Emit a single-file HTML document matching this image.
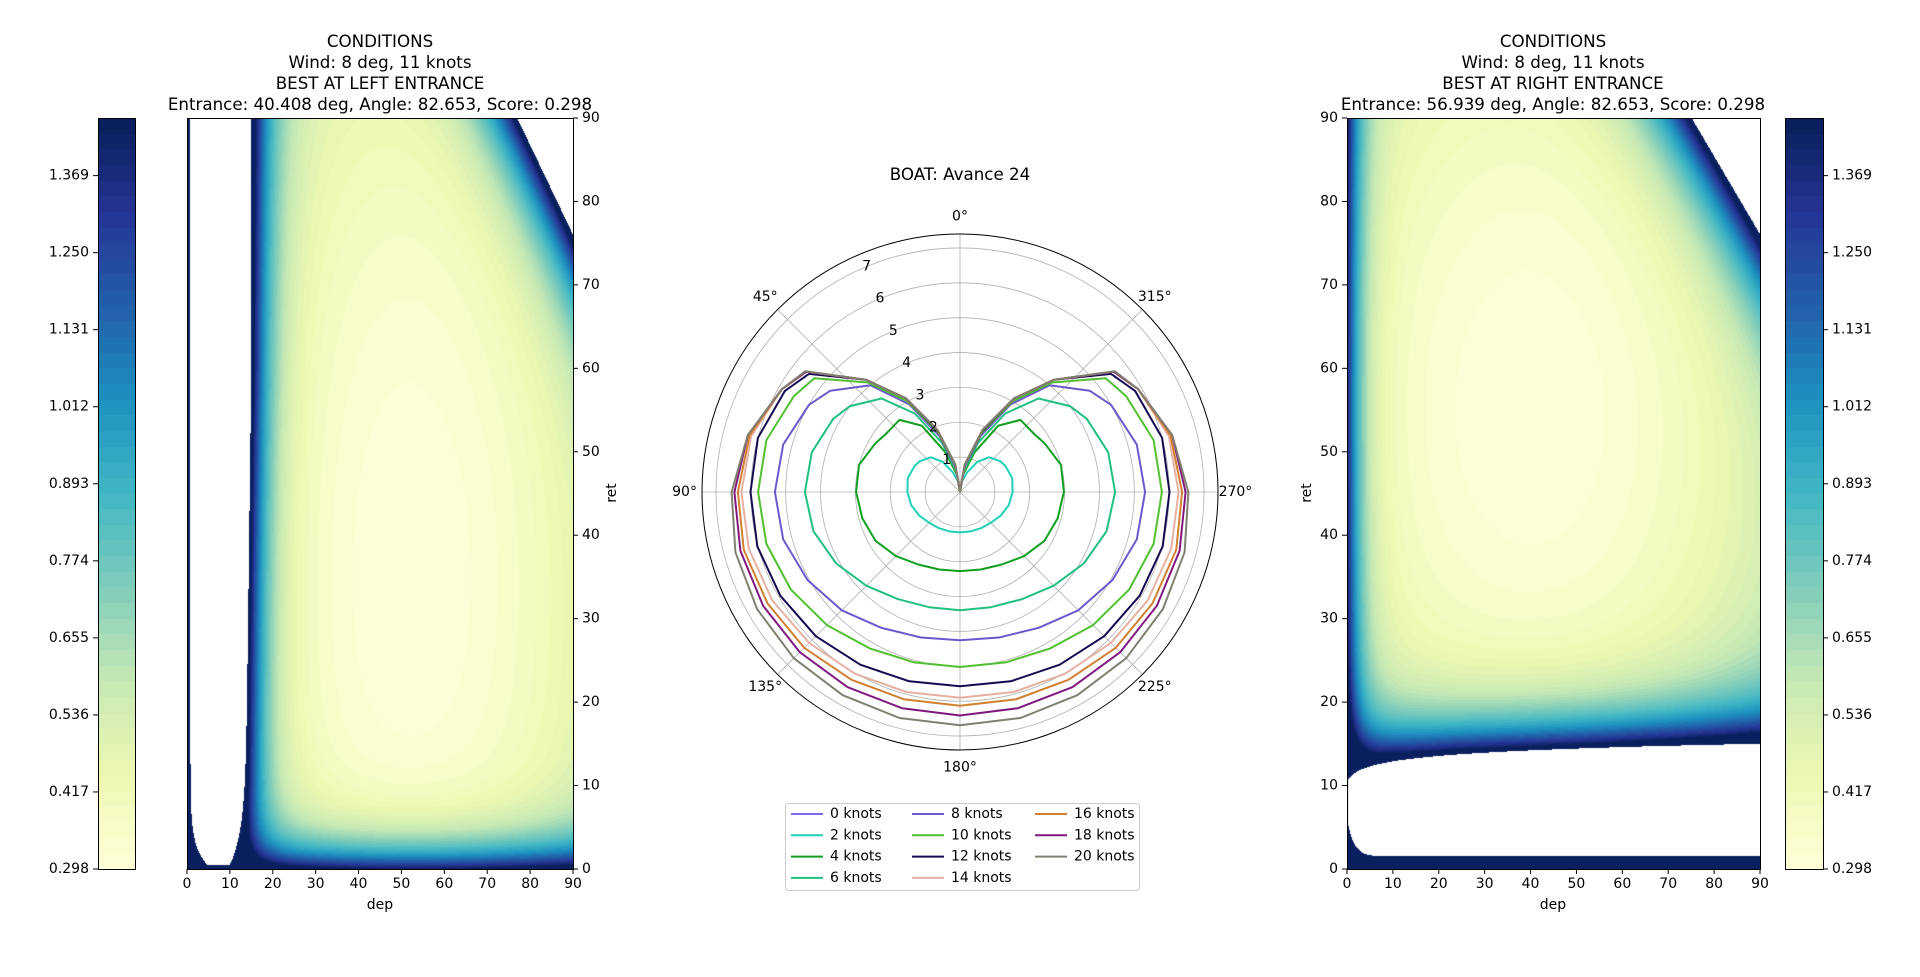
<!DOCTYPE html>
<html><head><meta charset="utf-8"><style>
html,body{margin:0;padding:0;background:#fff;width:1920px;height:977px;overflow:hidden}
#root{position:relative;width:1920px;height:977px;font-family:"DejaVu Sans","Liberation Sans",sans-serif}
canvas{position:absolute}
svg{position:absolute;left:0;top:0}
text{font-family:"DejaVu Sans","Liberation Sans",sans-serif;fill:#000}
</style></head><body>
<div id="root">
<canvas id="hmL" width="386" height="751" style="left:187px;top:118px;width:386px;height:751px"></canvas>
<canvas id="hmR" width="413" height="751" style="left:1347px;top:118px;width:413px;height:751px"></canvas>
<canvas id="cbL" width="37" height="751" style="left:98px;top:118px;width:37px;height:751px"></canvas>
<canvas id="cbR" width="38" height="751" style="left:1785px;top:118px;width:38px;height:751px"></canvas>
<svg id="svg" width="1920" height="977"></svg>
</div>
<script>
// ---- data ----
const polarAngles = [0,10,20,30,40,52,60,75,90,105,120,135,150,165,180];
const windLabels = ["0 knots","2 knots","4 knots","6 knots","8 knots","10 knots","12 knots","14 knots","16 knots","18 knots","20 knots"];
const windColors = ["#7b68ee","#20d0b8","#10a020","#20c080","#6a5acd","#50c030","#140a50","#e8b0a0","#d08030","#801880","#808070"];
const speeds0  = [0,0,0,0,0,0,0,0,0,0,0,0,0,0,0];
const speeds2  = [0,0.3,0.6,1.0,1.3,1.45,1.5,1.55,1.51,1.45,1.35,1.25,1.2,1.17,1.16];
const speeds4  = [0,0.5,1.2,2.2,2.7,2.7,2.8,3.0,2.98,2.9,2.8,2.6,2.4,2.3,2.27];
const speeds6  = [0,0.6,1.5,2.6,3.5,4.0,4.2,4.4,4.45,4.35,4.1,3.8,3.55,3.42,3.39];
const speeds8  = [0,0.7,1.7,2.9,4.0,4.72,5.0,5.25,5.31,5.25,5.05,4.8,4.5,4.32,4.25];
const speeds10 = [0,0.75,1.8,3.0,4.1,5.3,5.5,5.75,5.79,5.75,5.6,5.4,5.18,5.06,5.02];
const speeds12 = [0,0.8,1.85,3.1,4.2,5.5,5.8,6.0,6.01,6.02,5.95,5.85,5.72,5.62,5.57];
const speeds14 = [0,0.8,1.9,3.1,4.2,5.6,5.9,6.2,6.27,6.27,6.22,6.12,6.02,5.94,5.9];
const speeds16 = [0,0.8,1.9,3.1,4.2,5.6,5.9,6.25,6.37,6.42,6.38,6.32,6.22,6.16,6.13];
const speeds18 = [0,0.8,1.9,3.1,4.2,5.6,5.9,6.3,6.47,6.52,6.52,6.5,6.46,6.42,6.41];
const speeds20 = [0,0.8,1.9,3.1,4.2,5.63,5.9,6.3,6.55,6.67,6.72,6.74,6.73,6.71,6.69];
const allSpeeds = [speeds0,speeds2,speeds4,speeds6,speeds8,speeds10,speeds12,speeds14,speeds16,speeds18,speeds20];
const radialTicks = [1,2,3,4,5,6,7];
const angleTicks = [0,45,90,135,180,225,270,315];
const cbarTicks = ["0.298","0.417","0.536","0.655","0.774","0.893","1.012","1.131","1.250","1.369"];
const axisTicks = [0,10,20,30,40,50,60,70,80,90];
const vmin = 0.298, vmax = 1.458, nLevels = 48;

const NS="http://www.w3.org/2000/svg";
const svg=document.getElementById('svg');
function mk(tag,attrs,parent,name,inter){const e=document.createElementNS(NS,tag);for(const k in attrs)e.setAttribute(k,attrs[k]);


(parent||svg).appendChild(e);return e;}
function txt(x,y,s,size,anchor,name,extra){const t=mk('text',Object.assign({x:x,y:y,'font-size':size,'text-anchor':anchor||'middle','dominant-baseline':'central'},extra||{}),svg,name,false);t.textContent=s;return t;}

// colormap YlGnBu
const cmStops=[[255,255,217],[237,248,177],[199,233,180],[127,205,187],[65,182,196],[29,145,192],[34,94,168],[37,52,148],[8,29,88]];
function cmap(t){t=Math.max(0,Math.min(1,t));const f=t*8;const i=Math.min(7,Math.floor(f));const u=f-i;const a=cmStops[i],b=cmStops[i+1];
return [a[0]+(b[0]-a[0])*u,a[1]+(b[1]-a[1])*u,a[2]+(b[2]-a[2])*u];}
function quant(v){let t=(v-vmin)/(vmax-vmin);t=Math.max(0,Math.min(0.9999,t));const k=Math.floor(t*nLevels);return cmap((k+0.5)/nLevels);}

function fieldL(d,r){
  const left=0.8+5*Math.exp(-r/2.2)+0.006*(45-r>0?0:0), wall=15-4*Math.exp(-r/4)-0.02*(90-r)*0.5*0+ (r<60? -1.5*(60-r)/60:0);
  const s=160.7-(d+0.93*r);
  if(s<0) return null;
  if(d>left && d<wall && r>0.5) return null;
  let v=0.30+0.22*Math.pow((d-52)/45,2)+0.12*Math.pow((r-35)/55,2);
  if(d>=wall) v+=1.15*Math.exp(-(d-wall)/4);
  else if(r>0.5) v+=1.2;
  v+=1.1*Math.exp(-r/3.2);
  v+=1.1*Math.exp(-s/7);
  return v;
}
function fieldR(d,r){
  const lower=1.5+4.5*Math.exp(-d/1.5), upper=10.5+1.0*Math.log(1+d);
  const s=171.4-(d+1.07*r);
  if(s<0) return null;
  if(r>lower && r<upper && d>0.3) return null;
  let v=0.30+0.2*Math.pow((d-40)/50,2)+0.12*Math.pow((r-55)/40,2);
  if(r>=upper) v+=1.15*Math.exp(-(r-upper)/4);
  else v+=1.0+0.15*(1-r/lower);
  v+=1.0*Math.exp(-d/3);
  v+=1.1*Math.exp(-s/8);
  return v;
}
function drawHeat(id,W,H,fn){
  const c=document.getElementById(id),ctx=c.getContext('2d');const img=ctx.createImageData(W,H);
  for(let y=0;y<H;y++)for(let x=0;x<W;x++){const d=(x+0.5)/W*90,r=(1-(y+0.5)/H)*90;const v=fn(d,r);const i=(y*W+x)*4;
    if(v===null){img.data[i]=255;img.data[i+1]=255;img.data[i+2]=255;}else{const c2=quant(v);img.data[i]=c2[0];img.data[i+1]=c2[1];img.data[i+2]=c2[2];}
    img.data[i+3]=255;}
  ctx.putImageData(img,0,0);
}
drawHeat('hmL',386,751,fieldL);
drawHeat('hmR',413,751,fieldR);
function drawCbar(id,W,H){const c=document.getElementById(id),ctx=c.getContext('2d');
  for(let y=0;y<H;y++){const v=vmin+(1-(y+0.5)/H)*(vmax-vmin);const cc=quant(v);ctx.fillStyle='rgb('+cc.map(Math.round).join(',')+')';ctx.fillRect(0,y,W,1);} }
drawCbar('cbL',37,751);drawCbar('cbR',38,751);

// frames
function frame(x,y,w,h,name){mk('rect',{x:x+0.5,y:y+0.5,width:w,height:h,fill:'none',stroke:'#000','stroke-width':1},svg,name,false);}
frame(187,118,386,751,'left-plot-frame');frame(1347,118,413,751,'right-plot-frame');
frame(98,118,37,751,'left-colorbar-frame');frame(1785,118,38,751,'right-colorbar-frame');

const plotTop=118,plotBot=869;
function yOf(v){return plotBot-(v/90)*(plotBot-plotTop);}
axisTicks.forEach(v=>{
  const xl=187+v/90*386;
  mk('line',{x1:xl,y1:869,x2:xl,y2:874,stroke:'#000'},svg,'left-x-tick',false);
  txt(xl,884,String(v),14,'middle','left-x-tick-label');
  mk('line',{x1:573,y1:yOf(v),x2:578,y2:yOf(v),stroke:'#000'},svg,'left-y-tick',false);
  txt(582,yOf(v),String(v),14,'start','left-y-tick-label');
  const xr=1347+v/90*413;
  mk('line',{x1:xr,y1:869,x2:xr,y2:874,stroke:'#000'},svg,'right-x-tick',false);
  txt(xr,884,String(v),14,'middle','right-x-tick-label');
  mk('line',{x1:1342,y1:yOf(v),x2:1347,y2:yOf(v),stroke:'#000'},svg,'right-y-tick',false);
  txt(1338,yOf(v),String(v),14,'end','right-y-tick-label');
});
txt(380,905,'dep',14,'middle','left-x-axis-title');
txt(1553,905,'dep',14,'middle','right-x-axis-title');
txt(612,493,'ret',14,'middle','left-y-axis-title',{transform:'rotate(-90 612 493)'});
txt(1307,493,'ret',14,'middle','right-y-axis-title',{transform:'rotate(-90 1307 493)'});
cbarTicks.forEach(s=>{
  const v=parseFloat(s);const y=869-(v-vmin)/(vmax-vmin)*751;
  mk('line',{x1:93,y1:y,x2:98,y2:y,stroke:'#000'},svg,'left-colorbar-tick',false);
  txt(89,y,s,14,'end','left-colorbar-tick-label');
  mk('line',{x1:1823,y1:y,x2:1828,y2:y,stroke:'#000'},svg,'right-colorbar-tick',false);
  txt(1832,y,s,14,'start','right-colorbar-tick-label');
});
['CONDITIONS','Wind: 8 deg, 11 knots','BEST AT LEFT ENTRANCE','Entrance: 40.408 deg, Angle: 82.653, Score: 0.298'].forEach((s,i)=>txt(380,41+i*21,s,16.7,'middle','left-title-line'));
['CONDITIONS','Wind: 8 deg, 11 knots','BEST AT RIGHT ENTRANCE','Entrance: 56.939 deg, Angle: 82.653, Score: 0.298'].forEach((s,i)=>txt(1553,41+i*21,s,16.7,'middle','right-title-line'));

// polar
const cx=960,cy=492,R=258,rmax=7.4;
function rp(v){return v/rmax*R;}
function pt(deg,v){const a=deg*Math.PI/180;return [cx-rp(v)*Math.sin(a),cy-rp(v)*Math.cos(a)];}
radialTicks.forEach(k=>mk('circle',{cx:cx,cy:cy,r:rp(k),fill:'none',stroke:'#b0b0b0','stroke-width':0.8},svg,'polar-grid-ring',false));
angleTicks.forEach(a=>{const p=pt(a,rmax);mk('line',{x1:cx,y1:cy,x2:p[0],y2:p[1],stroke:'#b0b0b0','stroke-width':0.8},svg,'polar-grid-spoke',false);});
mk('circle',{cx:cx,cy:cy,r:R,fill:'none',stroke:'#000','stroke-width':1},svg,'polar-outer-circle',false);
allSpeeds.forEach((arr,si)=>{
  const pts=[];
  polarAngles.forEach((a,i)=>pts.push(pt(a,arr[i])));
  for(let i=polarAngles.length-2;i>=0;i--)pts.push(pt(360-polarAngles[i],arr[i]));
  mk('polyline',{points:pts.map(p=>p[0].toFixed(1)+','+p[1].toFixed(1)).join(' '),fill:'none',stroke:windColors[si],'stroke-width':2,'stroke-linejoin':'round'},svg,'polar-series-'+windLabels[si].replace(' ','-'),false);
});
radialTicks.forEach(k=>{const p=pt(22.5,k);txt(p[0],p[1],String(k),14,'middle','polar-radial-label');});
angleTicks.forEach(a=>{const p=pt(a,rmax+0.5);txt(p[0],p[1],a+'°',14,'middle','polar-angle-label');});
txt(960,174,'BOAT: Avance 24',16.7,'middle','polar-title');

// legend
mk('rect',{x:785.5,y:803.5,width:354,height:87,fill:'#fff',stroke:'#ccc','stroke-width':1,rx:3},svg,'legend-box',false);
const colX=[791,912,1035];
windLabels.forEach((lab,i)=>{const c=Math.floor(i/4),r=i%4;const y=814+r*21.3;
  mk('line',{x1:colX[c],y1:y,x2:colX[c]+32,y2:y,stroke:windColors[i],'stroke-width':2},svg,'legend-swatch',false);
  txt(colX[c]+39,y,lab,14,'start','legend-entry');});
</script>
</body></html>
